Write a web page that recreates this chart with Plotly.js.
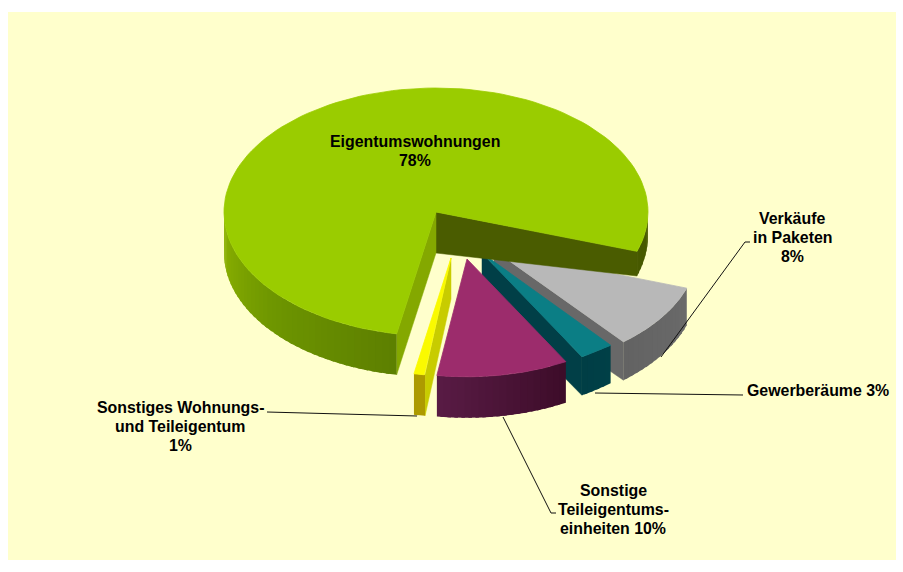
<!DOCTYPE html>
<html>
<head>
<meta charset="utf-8">
<script src="https://cdn.plot.ly/plotly-3.0.1.min.js"></script>
<style>html,body{margin:0;padding:0;background:#fff}</style>
</head>
<body>
<div id="chart" style="width:903px;height:572px"></div>
<script>
// Data
const categories = ['Verkäufe in Paketen', 'Gewerberäume', 'Sonstige Teileigentumseinheiten', 'Sonstiges Wohnungs- und Teileigentum', 'Eigentumswohnungen'];
const values = [8, 3, 10, 1, 78];
const labelLines = [['Verkäufe', 'in Paketen', '8%'], ['Gewerberäume 3%'], ['Sonstige', 'Teileigentums-', 'einheiten 10%'], ['Sonstiges Wohnungs-', 'und Teileigentum', '1%'], ['Eigentumswohnungen', '78%']];

// Styles and pseudo-3D projection settings
const startAngle = 20.5, rx = 212, ry = 124, depth = 41;
const cx = 436, cy = 212;
const radius = [0.96, 0.96, 0.95, 0.95, 1];
const pullX = [58, 46, 31, 15, 0];
const pullY = [38, 41, 47, 46, 0];
const startNudge = [-1.8, 1.5, 0.5, 1.3, 1];
const endNudge = [1.2, 0.5, 2.5, 0.9, -2];
const depthLoss = [0.1, 0.12, 0, 0, 0.42];
const topCol = ['#b8b8b8', '#0b7e85', '#9c2c6c', '#fafa00', '#9acc00'];
const startFace = ['#666666', '#00424a', '#4a1232', '#c8cc00', '#84a800'];
const endFace = ['#686868', '#013f47', '#4a1232', '#c8cc00', '#4a5c00'];
const rimStops = [
  [[0, '#6e6e6e'], [90, '#5a5a5a']],
  [[0, '#004a52'], [90, '#00383f']],
  [[60, '#3c0c28'], [100, '#5a1c46']],
  [[90, '#b09c00'], [110, '#a89800']],
  [[0, '#4a5c00'], [30, '#465800'], [99, '#5c7e00'], [140, '#6e9600'], [180, '#8eb400']]
];
const labelX = [792, 818, 613, 180, 415];
const labelY = [218, 390, 490, 407, 141];
const lineStep = 19;
const leaderX = [[661, 745, 750], [595, 743], [503, 551, 556], [417, 267]];
const leaderY = [[357, 242, 242], [393, 395], [417, 513, 513], [416, 412]];

const rad = d => d * Math.PI / 180;
const hex = c => [1, 3, 5].map(i => parseInt(c.substr(i, 2), 16));
function rimColor(stops, t) {
  const a = ((t % 360) + 360) % 360;
  if (a <= stops[0][0]) return stops[0][1];
  for (let i = 1; i < stops.length; i++) {
    if (a <= stops[i][0]) {
      const f = (a - stops[i - 1][0]) / (stops[i][0] - stops[i - 1][0]);
      const p = hex(stops[i - 1][1]), q = hex(stops[i][1]);
      return 'rgb(' + p.map((v, k) => Math.round(v + (q[k] - v) * f)).join(',') + ')';
    }
  }
  return stops[stops.length - 1][1];
}
const traces = [];
function poly(xs, ys, color, lw) {
  traces.push({type: 'scatter', mode: 'lines', x: xs, y: ys, fill: 'toself', fillcolor: color,
    line: {color: color, width: lw === undefined ? 0 : lw}, hoverinfo: 'skip', showlegend: false});
}

// Angular spans come from the values
const total = values.reduce((s, n) => s + n, 0);
const spans = [];
let acc = startAngle;
values.forEach((v, i) => { const b = acc + v / total * 360; spans.push([acc + startNudge[i], b + endNudge[i]]); acc = b; });

values.forEach((v, i) => {
  const [a, b] = spans[i];
  const ox = cx + pullX[i], oy = cy + pullY[i], r = radius[i];
  const px = t => ox + r * rx * Math.cos(rad(t));
  const py = t => oy + r * ry * Math.sin(rad(t));
  const dp = t => depth * (1 - depthLoss[i] * Math.max(Math.cos(rad(t)), 0));
  const face = (t, c) => poly([ox, ox, px(t), px(t), ox], [oy, oy + depth, py(t) + dp(t), py(t), oy], c, 0.5);
  // Visible cut faces
  if (Math.cos(rad(b)) > 0) face(b, endFace[i]);
  if (Math.cos(rad(a)) < 0) face(a, startFace[i]);
  // Rim, split into overlapping bands to imitate the shading
  const step = 2;
  const bands = [];
  for (let t = a; t < b; t += step) {
    const e = Math.min(t + step, b);
    const norm = (((t + e) / 2 % 360) + 360) % 360;
    if (norm <= 182) bands.push([t, e, norm]);
  }
  bands.forEach(([t, e, norm], n) => {
    const over = n < bands.length - 1 ? Math.min(e + 1, b) : e;
    poly([px(t), px(over), px(over), px(t), px(t)],
         [py(t), py(over), py(over) + dp(over), py(t) + dp(t), py(t)], rimColor(rimStops[i], norm), 0);
  });
  // Top face
  const tx = [ox], ty = [oy];
  for (let k = 0; k <= 120; k++) { const t = a + (b - a) * k / 120; tx.push(px(t)); ty.push(py(t)); }
  tx.push(ox); ty.push(oy);
  poly(tx, ty, topCol[i], 0.8);
});

leaderX.forEach((xs, i) => traces.push({type: 'scatter', mode: 'lines', x: xs, y: leaderY[i],
  line: {color: '#111111', width: 1}, hoverinfo: 'skip', showlegend: false}));

const annotations = [];
labelLines.forEach((lines, i) => lines.forEach((t, n) => annotations.push({
  x: labelX[i], y: labelY[i] + n * lineStep, xref: 'x', yref: 'y', text: t, showarrow: false, align: 'center',
  xanchor: 'center', yanchor: 'middle',
  font: {family: '"Liberation Sans", Arial, sans-serif', size: 15.9, color: '#000000', weight: 700}
})));

const noAxis = {visible: false, showgrid: false, zeroline: false, fixedrange: true};
Plotly.newPlot('chart', traces, {
  width: 903, height: 572,
  margin: {l: 8, r: 7, t: 12, b: 12},
  paper_bgcolor: '#ffffff', plot_bgcolor: '#ffffcc',
  xaxis: Object.assign({range: [8, 896]}, noAxis),
  yaxis: Object.assign({range: [560, 12]}, noAxis),
  annotations: annotations, showlegend: false
}, {displayModeBar: false, staticPlot: true});
</script>
</body>
</html>
